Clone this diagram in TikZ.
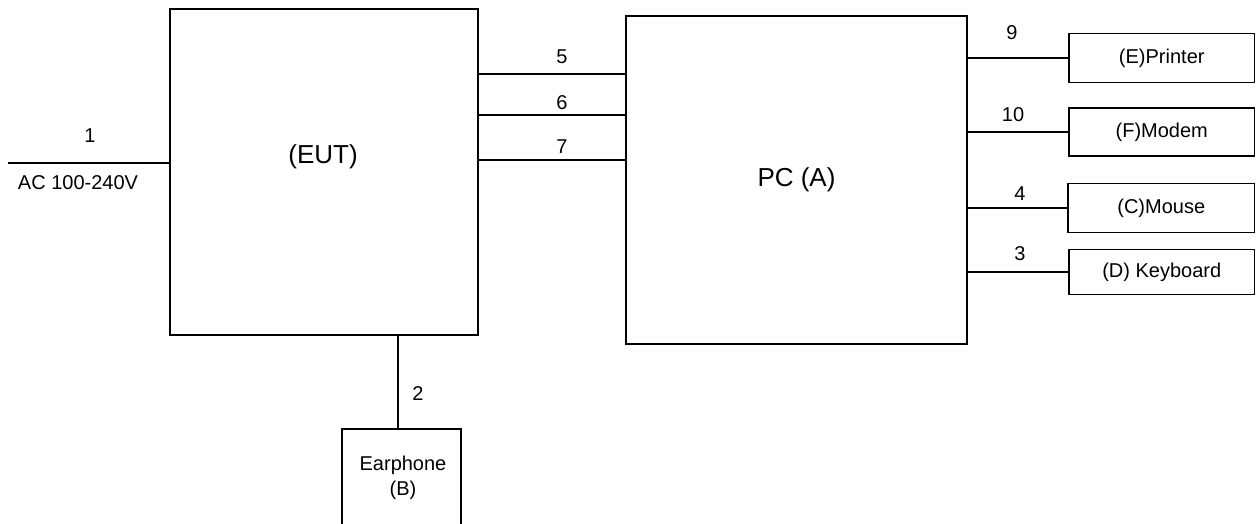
\documentclass[tikz,border=0pt]{standalone}
\usepackage{fontspec}
\setmainfont{Liberation Sans}
\begin{document}
\begin{tikzpicture}[x=1pt,y=-1pt,line width=1.8pt,
  box/.style={draw,rectangle,inner sep=0pt,outer sep=0pt},
  lbl/.style={font=\fontsize{20}{24}\selectfont,inner sep=0pt},
  big/.style={font=\fontsize{26}{31}\selectfont,inner sep=0pt}]
\useasboundingbox (0,0) rectangle (1256,523);
\clip (0,0) rectangle (1256,523);
% main boxes
\node[box,minimum width=308pt,minimum height=326pt] (eut) at (324,172) {};
\node[big] (euttext) at (323,157) {(EUT)};
\node[box,big,minimum width=341pt,minimum height=328pt] (pc) at (796.5,180) {PC (A)};
% earphone
\node[box,minimum width=119pt,minimum height=102pt] (ear) at (401.5,480) {};
\node[lbl] (eartext1) at (403,465) {Earphone};
\node[lbl] (eartext2) at (403,490) {(B)};
% peripherals
\node[box,lbl,minimum width=185.5pt,minimum height=49pt] (printer) at (1161.75,58) {(E)Printer};
\node[box,lbl,minimum width=185.5pt,minimum height=48pt] (modem) at (1161.75,132) {(F)Modem};
\node[box,lbl,minimum width=186.5pt,minimum height=49pt] (mouse) at (1161.25,208) {(C)Mouse};
\node[box,lbl,minimum width=185.5pt,minimum height=45pt] (kbd) at (1161.75,272) {(D) Keyboard};
% power line
\coordinate (ac) at (8,163);
\draw (ac) -- (eut.west |- ac);
\node[lbl] (l1) at (90,136) {1};
\node[lbl] (acl) at (78,183) {AC 100-240V};
% EUT to PC
\draw (eut.east |- 0,74) -- (pc.west |- 0,74);
\draw (eut.east |- 0,115) -- (pc.west |- 0,115);
\draw (eut.east |- 0,160) -- (pc.west |- 0,160);
\node[lbl] (l5) at (562,57) {5};
\node[lbl] (l6) at (562,103) {6};
\node[lbl] (l7) at (562,147) {7};
% EUT to earphone
\draw (eut.south -| 398,0) -- (ear.north -| 398,0);
\node[lbl] (l2) at (418,394) {2};
% PC to peripherals
\draw (printer.west -| pc.east) -- (printer.west);
\draw (modem.west -| pc.east) -- (modem.west);
\draw (mouse.west -| pc.east) -- (mouse.west);
\draw (kbd.west -| pc.east) -- (kbd.west);
\node[lbl] (l9) at (1012,33) {9};
\node[lbl] (l10) at (1013,115) {10};
\node[lbl] (l4) at (1020,194) {4};
\node[lbl] (l3) at (1020,254) {3};
\end{tikzpicture}
\end{document}
